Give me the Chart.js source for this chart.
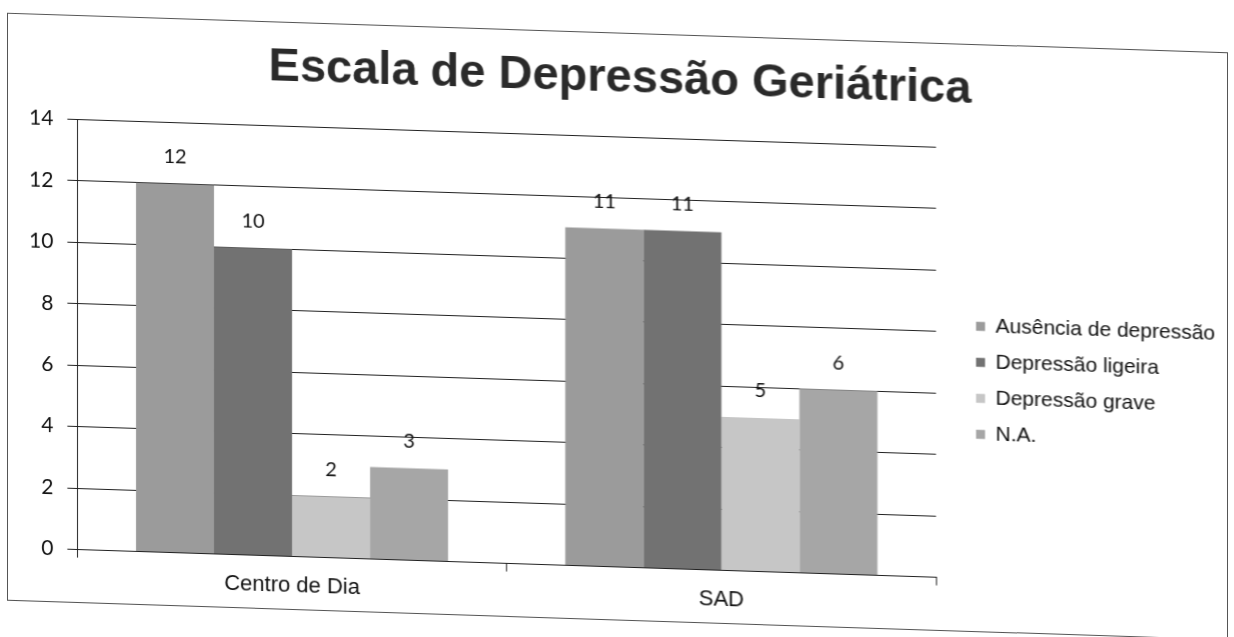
<!DOCTYPE html>
<html>
<head>
<meta charset="utf-8">
<script src="https://cdn.jsdelivr.net/npm/chart.js@4.4.0/dist/chart.umd.min.js"></script>
<style>
  html, body { margin: 0; padding: 0; background: #fff; }
  /* the scanned page is sheared: horizontal lines drop to the right */
  #sheet { position: absolute; left: 0; top: 0; width: 1234px; height: 637px;
           transform: skewY(1.85deg); transform-origin: 77px 0; }
  #frame { position: absolute; left: 7px; top: 15px; width: 1221px; height: 588px;
           border: 1px solid #555; box-sizing: border-box; }
  canvas { position: absolute; left: 0; top: 0; }
</style>
</head>
<body>
<div id="sheet">
  <div id="frame"></div>
  <canvas id="myChart" width="1234" height="637"></canvas>
</div>
<script>
// data
const categories = ['Centro de Dia', 'SAD'];
const seriesNames = ['Ausência de depressão', 'Depressão ligeira', 'Depressão grave', 'N.A.'];
const ausencia = [12, 11];
const ligeira = [10, 11];
const grave = [2, 5];
const naoAplica = [3, 6];
const yMin = 0, yMax = 14, yStep = 2;

const seriesColors = ['#9b9b9b', '#727272', '#c6c6c6', '#a6a6a6'];

// numbers above the bars
const valueLabels = {
  id: 'valueLabels',
  afterDatasetsDraw(chart) {
    const ctx = chart.ctx;
    ctx.save();
    ctx.font = '20px Lato';
    ctx.fillStyle = '#111';
    ctx.textAlign = 'center';
    ctx.textBaseline = 'middle';
    chart.data.datasets.forEach((ds, i) => {
      chart.getDatasetMeta(i).data.forEach((bar, j) => {
        ctx.fillText(ds.data[j], bar.x, bar.y - 27);
      });
    });
    ctx.restore();
  }
};

window.addEventListener('load', () => {
  const allSeries = [ausencia, ligeira, grave, naoAplica];
  const datasets = allSeries.map((vals, i) => ({
    label: seriesNames[i],
    data: vals,
    backgroundColor: seriesColors[i],
    borderWidth: 0,
    categoryPercentage: 0.727,
    barPercentage: 1.0,
  }));

  const ctx = document.getElementById('myChart');
  new Chart(ctx, {
    type: 'bar',
    data: { labels: categories, datasets: datasets },
    options: {
      responsive: false,
      animation: false,
      layout: { padding: { top: 14, bottom: 37, left: 15, right: 9 } },
      plugins: {
        tooltip: { enabled: false },
        title: {
          display: true,
          text: 'Escala de Depressão Geriátrica',
          color: '#2a2a2a',
          font: { family: 'Liberation Sans', size: 47, weight: 'bold' },
          padding: { top: 19, bottom: 30 },
        },
        legend: {
          position: 'right',
          maxWidth: 320,
          title: { display: true, text: '', padding: { top: 74, bottom: 0 } },
          labels: {
            color: '#111',
            font: { family: 'Liberation Sans', size: 21 },
            boxWidth: 9,
            boxHeight: 9,
            padding: 15,
          },
        },
      },
      scales: {
        x: {
          grid: { display: true, drawOnChartArea: false, color: '#222', tickLength: 8 },
          border: { color: '#222' },
          ticks: { color: '#111', padding: 8, font: { family: 'Liberation Sans', size: 22 } },
        },
        y: {
          min: yMin,
          max: yMax,
          grid: { color: '#222', tickLength: 10 },
          border: { color: '#222' },
          ticks: { stepSize: yStep, color: '#111', padding: 14, font: { family: 'Lato', size: 21 } },
        },
        // empty right axis, only keeps a gap between the plot and the legend
        gap: {
          position: 'right',
          display: true,
          grid: { display: false },
          border: { display: false },
          ticks: { display: false },
          afterFit: (scale) => { scale.width = 25; },
        },
      },
    },
    plugins: [valueLabels],
  });
});
</script>
</body>
</html>
